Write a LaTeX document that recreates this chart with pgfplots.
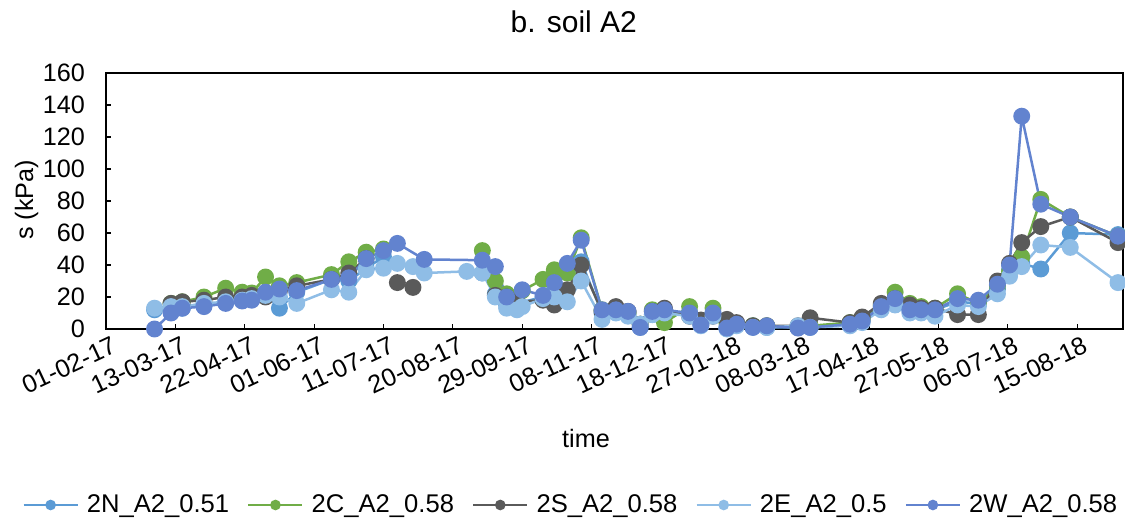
\documentclass[border=0pt]{standalone}
\usepackage{fontspec}
\setmainfont{Liberation Sans}
\usepackage{pgfplots}
\pgfplotsset{compat=1.18}

\definecolor{cN}{HTML}{5B9BD5}
\definecolor{cC}{HTML}{70AD47}
\definecolor{cS}{HTML}{5A5A5A}
\definecolor{cE}{HTML}{8FBDE6}
\definecolor{cW}{HTML}{6283CF}

\pgfplotsset{
  ser/.style={color=#1, line width=1.25pt, mark=*, mark size=3.6pt,
    mark options={solid, fill=#1, draw=#1}},
}

\begin{document}
\begin{tikzpicture}
\useasboundingbox (-53pt,-97.5pt) rectangle (509.5pt,164.5pt);
\begin{axis}[
  scale only axis,
  width=508.5pt, height=128pt,
  xmin=0, xmax=586.4, ymin=0, ymax=160,
  axis line style={line width=1pt, black},
  xtick={0,40,...,560},
  xticklabels={01-02-17,13-03-17,22-04-17,01-06-17,11-07-17,20-08-17,29-09-17,08-11-17,18-12-17,27-01-18,08-03-18,17-04-18,27-05-18,06-07-18,15-08-18},
  x tick label style={rotate=25, anchor=north east, inner sep=0pt, yshift=-4pt, xshift=1pt},
  y tick label style={xshift=-7pt},
  ytick={0,20,...,160},
  tick style={black, line width=0.6pt},
  major tick length=2.5pt,
  tick pos=left,
  ticklabel style={font=\fontsize{12.6}{14}\selectfont},
  /pgf/number format/assume math mode=true,
  xlabel={time},
  ylabel={s (kPa)},
  label style={font=\fontsize{12.6}{14}\selectfont},
  xlabel style={at={(axis description cs:0.472,-0.426)}, anchor=center},
  ylabel style={at={(axis description cs:-0.078,0.504)}, anchor=center},
  title={b. soil A2},
  every axis title shift=0pt,
  title style={at={(axis description cs:0.46,1.199)}, anchor=center, font=\fontsize{15}{17}\selectfont},
  unbounded coords=jump,
  legend columns=5,
  legend style={at={(axis description cs:0.458,-0.6875)}, anchor=center, draw=none,
    font=\fontsize{12.8}{14}\selectfont, column sep=2pt,
    /tikz/every even column/.append style={column sep=7pt}},
  legend image code/.code={
    \draw[mark repeat=2, mark phase=2, mark size=2pt]
      plot coordinates {(0pt,0pt) (13.5pt,0pt) (27pt,0pt)};},
  clip=false,
]
% 2N
\addplot[ser=cN] coordinates {
(28,12) (37.5,12) (44,13) (56.5,15) (69,17) (78.5,18) (84,19) (92,22) (100,13) (110,23)
(130,31) (140,30) (150,38) (160,45) (168,nan)
(217,35) (224.5,22) (231,15) (237,16) (252,20) (258.5,28) (266,36) (274,42)
(286,10) (294,11) (301,9) (308,1) (315,9) (322,10) (336.5,10) (343,3) (350,10) (358,1)
(363.6,3) (373,2) (381,1) (399,1) (406,1) (429,3) (436,5) (447,14) (455,18) (463.5,12)
(470,11) (478,12) (491,17) (503,16) (514,25) (521,37) (528,41) (539,37.5) (556,60) (583.5,59)
};
\addlegendentry{2N\_A2\_0.51}
% 2C
\addplot[ser=cC] coordinates {
(37.5,16) (44,17) (56.5,20) (69,25.5) (78.5,23) (84,22.5) (92,32.5) (100,27) (110,29)
(130,34) (140,42) (150,48) (160,50) (168,nan)
(217,49) (224.5,30) (231,22) (240,24) (252,31) (258.5,37) (266,35) (274,57)
(286,12) (294,12) (301,10) (308,3) (315,12) (322,4) (336.5,14) (343,5) (350,13) (358,4)
(363.6,3) (373,2) (381,2) (399,1) (406,2) (429,4) (436,6) (447,15) (455,23) (463.5,16)
(470,14) (478,13) (491,22) (503,16) (514,27) (521,36) (528,45) (539,81) (556,70) (583.5,58)
};
\addlegendentry{2C\_A2\_0.58}
% 2S
\addplot[ser=cS] coordinates {
(37.5,16) (44,17) (56.5,18) (69,20) (78.5,20) (84,21) (92,20) (100,24) (110,27)
(130,31) (140,35) (150,44) (160,nan)
(168,29) (177,26) (190,nan)
(224.5,21) (231,20) (237,17) (252,18) (258.5,15) (266,24.5) (274,40)
(286,11) (294,14) (301,11) (308,3) (315,11) (322,13) (336.5,8) (343,5.6) (350,8) (358,6)
(363.6,4) (373,2) (381,2) (399,2) (406,7) (429,4) (436,7.5) (447,16) (455,19) (463.5,15)
(470,13) (478,13) (491,9) (503,9) (514,30) (521,41) (528,54) (539,64) (556,70) (583.5,54)
};
\addlegendentry{2S\_A2\_0.58}
% 2E
\addplot[ser=cE] coordinates {
(28,13) (37.5,14) (44,14) (56.5,16) (69,17) (78.5,18) (84,19) (92,21) (100,20) (110,16)
(130,24.5) (140,23) (150,37) (160,38) (168,41) (177,39) (183.5,35) (208,36) (217,35)
(224.5,20) (231,13) (237,12) (240,14) (252,19) (258.5,20) (266,17) (274,30)
(286,6) (294,10) (301,8) (308,3) (315,9) (322,10) (336.5,8) (343,2) (350,8) (358,0)
(363.6,2) (373,1) (381,1) (399,2) (406,1) (429,2) (436,4) (447,12) (455,15) (463.5,10)
(470,10) (478,8) (491,15) (503,14) (514,22) (521,33) (528,39) (539,52.5) (556,51) (583.5,29)
};
\addlegendentry{2E\_A2\_0.5}
% 2W
\addplot[ser=cW] coordinates {
(28,0) (37.5,10) (44,13) (56.5,14) (69,16) (78.5,17.5) (84,18) (92,23) (100,25) (110,24)
(130,31) (140,32) (150,44) (160,49) (168,53.5) (183.5,43.5) (217,43) (224.5,39)
(231,20) (240,24.5) (252,21) (258.5,29) (266,41) (274,55.5)
(286,12) (294,12) (301,11) (308,1) (315,11) (322,12) (336.5,10) (343,2.5) (350,10) (358,0.6)
(363.6,3) (373,1) (381,2) (399,0.6) (406,1) (429,3) (436,5) (447,14) (455,19) (463.5,12)
(470,12) (478,12) (491,19) (503,18) (514,28) (521,40) (528,133) (539,78) (556,70) (583.5,58)
};
\addlegendentry{2W\_A2\_0.58}
\end{axis}
\end{tikzpicture}
\end{document}
